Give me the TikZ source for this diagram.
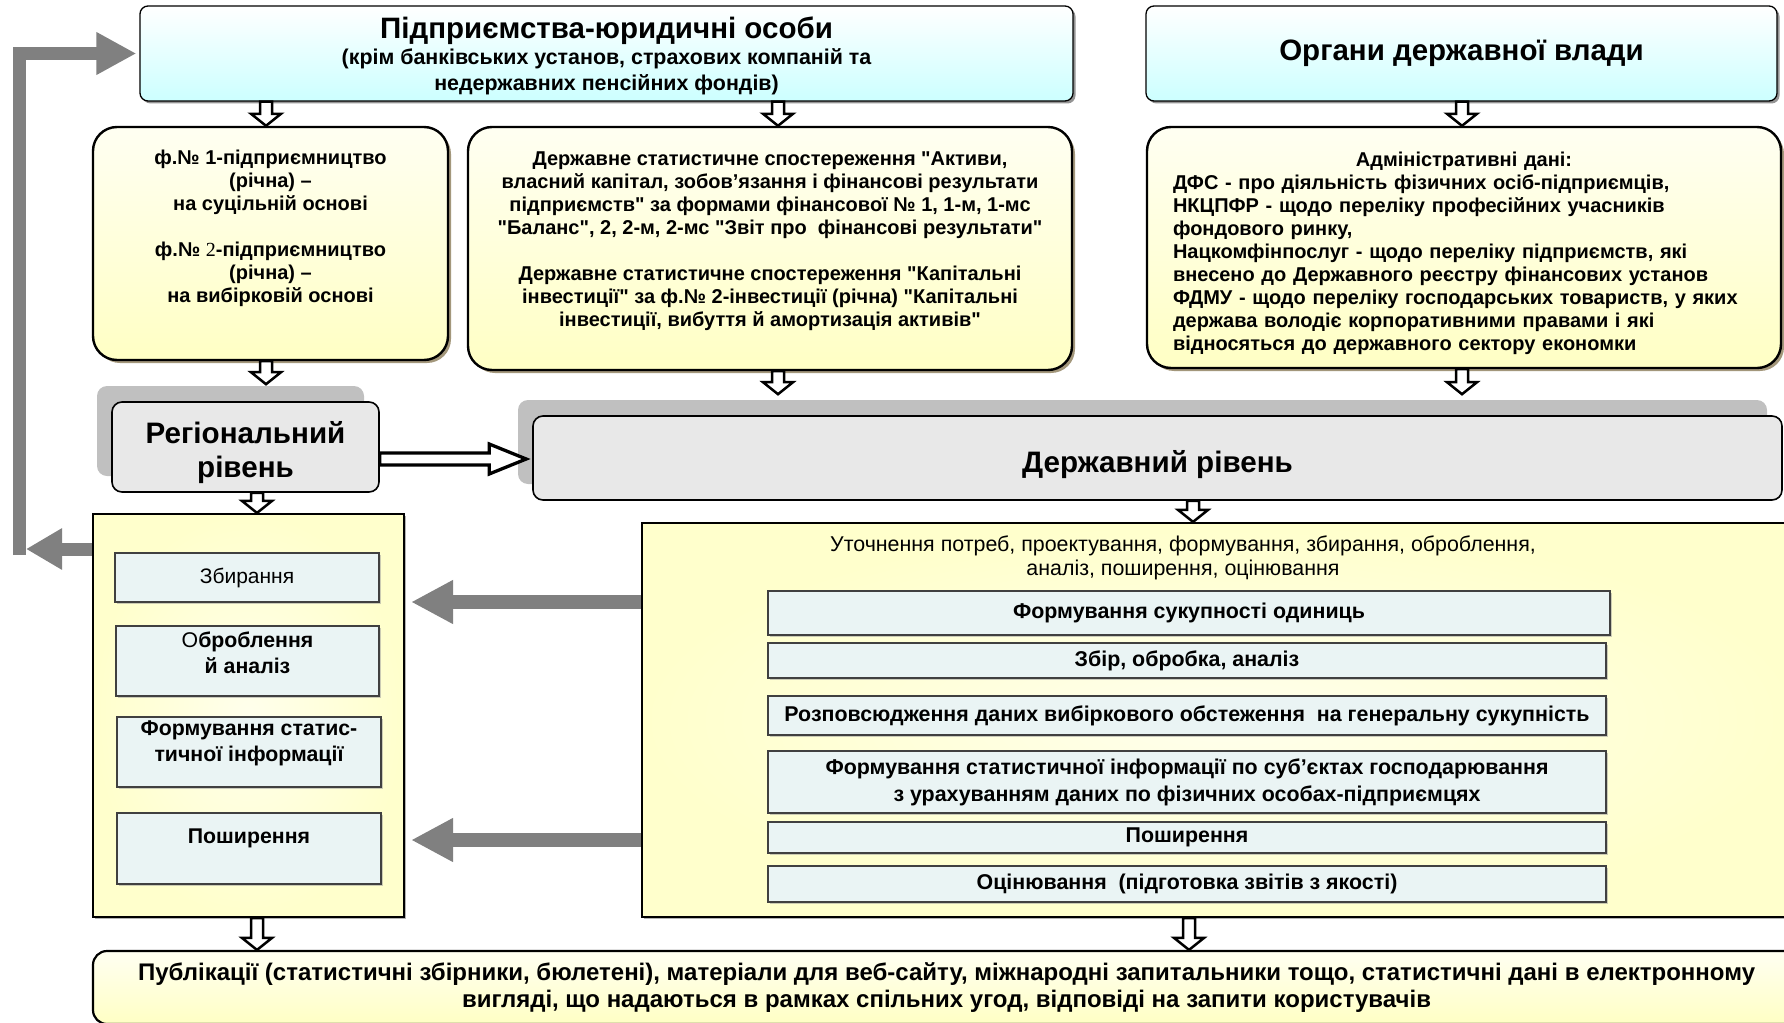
\documentclass[tikz,border=0pt]{standalone}
\usepackage{fontspec}
\setmainfont{Liberation Sans}
\newfontfamily\timesfont{Liberation Serif}
\usetikzlibrary{calc,shadows,arrows.meta}

\definecolor{cyanbot}{HTML}{CCFFFF}
\definecolor{yelltop}{HTML}{FFFFF2}
\definecolor{yellbot}{HTML}{FFFFC4}
\definecolor{procyell}{HTML}{FFFFCC}
\definecolor{proclight}{HTML}{FFFFEC}
\definecolor{cellblue}{HTML}{EAF4F4}
\definecolor{lvlfill}{HTML}{E8E8E8}
\definecolor{lvlback}{HTML}{C0C0C0}
\definecolor{arrgray}{HTML}{808080}
\definecolor{tanshadow}{HTML}{8C7D5A}

\newcommand{\qd}{\textquotedbl}
% hollow arrow down: from #1 to the level of #2
\newcommand{\hollowdown}[2]{%
  \path[hollow] let \p1=#1, \p2=#2 in
    (\x1-6pt,\y1) -- (\x1+6pt,\y1) -- (\x1+6pt,\y2+12pt) -- (\x1+15pt,\y2+12pt)
    -- (\x1,\y2) -- (\x1-15pt,\y2+12pt) -- (\x1-6pt,\y2+12pt) -- cycle;}
% hollow arrow right
\newcommand{\hollowright}[2]{%
  \path[hollow, line width=3.3pt] let \p1=#1, \p2=#2 in
    (\x1,\y1+6pt) -- (\x2-37pt,\y1+6pt) -- (\x2-37pt,\y1+15pt) -- (\x2,\y1)
    -- (\x2-37pt,\y1-15pt) -- (\x2-37pt,\y1-6pt) -- (\x1,\y1-6pt) -- cycle;}

\begin{document}
\begin{tikzpicture}[x=1pt, y=-1pt]
    % styles
    \tikzstyle{entbox}=[draw, line width=1.3pt, rounded corners=8pt, top color=white, bottom color=cyanbot,
        drop shadow={shadow xshift=2.5pt, shadow yshift=-2.5pt, fill=black!60, opacity=0.7}, align=center]
    \tikzstyle{srcbox}=[draw, line width=2.4pt, rounded corners=24pt, top color=yelltop, bottom color=yellbot,
        drop shadow={shadow xshift=3pt, shadow yshift=-3pt, fill=tanshadow, opacity=0.8},
        font=\bfseries\fontsize{20}{23}\selectfont, align=center]
    \tikzstyle{lvlbox}=[draw, line width=1.6pt, rounded corners=10pt, fill=lvlfill,
        drop shadow={shadow xshift=-15pt, shadow yshift=16pt, fill=lvlback, opacity=1},
        font=\bfseries\fontsize{29.6}{34}\selectfont, align=center]
    \tikzstyle{procbox}=[draw, line width=2.2pt, inner color=proclight, outer color=procyell,
        drop shadow={shadow xshift=2pt, shadow yshift=-2pt, fill=black!50, opacity=0.6}]
    \tikzstyle{cell}=[draw=black!75, line width=1.1pt, fill=cellblue, align=center, inner sep=0pt,
        drop shadow={shadow xshift=1.5pt, shadow yshift=-1.5pt, fill=black!40, opacity=0.5},
        font=\bfseries\fontsize{21.3}{26}\selectfont]
    \tikzstyle{rcell}=[cell, minimum width=838pt, font=\bfseries\fontsize{21.4}{27}\selectfont]
    \tikzstyle{hollow}=[draw=black, fill=white, line width=2.5pt, line join=miter]
    \tikzstyle{grayarr}=[draw=arrgray, line width=14pt, shorten >=6pt, -{Triangle[length=42pt, width=41pt]}]
    \tikzstyle{fbarr}=[draw=arrgray, line width=13pt, line join=miter]

    \useasboundingbox (0,0) rectangle (1784,1022);

    % sources
    \node[entbox, minimum width=933pt, minimum height=95pt, font=\bfseries\fontsize{21.4}{26}\selectfont] (ent) at (606.5,53.5)
        {\rule{0pt}{27pt}{\fontsize{29.5}{29.5}\selectfont Підприємства-юридичні особи}\\(крім банківських установ, страхових компаній та\\недержавних пенсійних фондів)};
    \node[entbox, minimum width=631pt, minimum height=95pt, font=\bfseries\fontsize{29.5}{30}\selectfont] (gov) at (1461.5,53.5)
        {Органи державної влади};

    \node[srcbox, minimum width=355pt, minimum height=233pt, text depth=34pt] (form1) at (270.5,243.5)
        {ф.№ 1-підприємництво\\(річна) –\\на суцільній основі\\[23pt]ф.№ {\timesfont\mdseries 2}-підприємництво\\(річна) –\\на вибірковій основі};
    \node[srcbox, minimum width=604pt, minimum height=243pt, text depth=18pt] (survey) at (770,248.5)
        {Державне статистичне спостереження \qd Активи,\\власний капітал, зобов’язання і фінансові результати\\підприємств\qd{} за формами фінансової № 1, 1-м, 1-мс\\\qd Баланс\qd, 2, 2-м, 2-мс \qd Звіт про\ \ фінансові результати\qd\\[23pt]Державне статистичне спостереження \qd Капітальні\\інвестиції\qd{} за ф.№ 2-інвестиції (річна) \qd Капітальні\\інвестиції, вибуття й амортизація активів\qd};
    \node[srcbox, minimum width=634pt, minimum height=241pt, text width=582pt, inner xsep=26pt, align=left] (admin) at (1464,247.5)
        {\rule{0pt}{27pt}\makebox[\linewidth]{Адміністративні дані:}\\ДФС - про діяльність фізичних осіб-підприємців,\\НКЦПФР - щодо переліку професійних учасників\\фондового ринку,\\Нацкомфінпослуг - щодо переліку підприємств, які\\внесено до Державного реєстру фінансових установ\\ФДМУ - щодо переліку господарських товариств, у яких\\держава володіє корпоративними правами і які\\відносяться до державного сектору економки};

    % levels
    \node[lvlbox, minimum width=267pt, minimum height=90pt] (reg) at (245.5,447) {\rule{0pt}{34pt}Регіональний\\рівень};
    \node[lvlbox, minimum width=1249pt, minimum height=84pt] (state) at (1157.5,458) {\rule{0pt}{36pt}Державний рівень};

    % regional process
    \node[procbox, minimum width=311pt, minimum height=403pt] (lbox) at (248.5,715.5) {};
    \node[cell, minimum width=264pt, minimum height=49pt, font=\fontsize{21}{26}\selectfont] (collect) at (247,577.5) {Збирання};
    \node[cell, minimum width=263pt, minimum height=70pt, text depth=16pt] (process) at (247.5,661) {{\mdseries О}броблення\\й аналіз};
    \node[cell, minimum width=264pt, minimum height=70pt, text depth=21pt] (forming) at (249,752) {Формування статис-\\тичної інформації};
    \node[cell, minimum width=264pt, minimum height=71pt, text depth=24pt] (spread) at (249,848.5) {Поширення};

    % state process
    \node[procbox, minimum width=1158pt, minimum height=394pt] (rbox) at (1221,720) {};
    \node[font=\fontsize{21.4}{23.5}\selectfont, align=center] (rhead) at (1183,558)
        {Уточнення потреб, проектування, формування, збирання, оброблення,\\аналіз, поширення, оцінювання};
    \node[rcell, minimum width=842pt, minimum height=44pt] (units) at (1189,613) {Формування сукупності одиниць};
    \node[rcell, minimum height=35pt] (gather) at (1187,660.5) {Збір, обробка, аналіз};
    \node[rcell, minimum height=39pt] (extend) at (1187,715.5) {Розповсюдження даних вибіркового обстеження\ \ на генеральну сукупність};
    \node[rcell, minimum height=62pt] (stats) at (1187,782) {Формування статистичної інформації по суб’єктах господарювання\\з урахуванням даних по фізичних особах-підприємцях};
    \node[rcell, minimum height=31pt] (spread2) at (1187,837.5) {Поширення};
    \node[rcell, minimum height=36pt] (quality) at (1187,884) {Оцінювання\ \ (підготовка звітів з якості)};

    % output
    \node[draw, line width=2.2pt, rounded corners=14pt, top color=yelltop, bottom color=yellbot, align=center,
        font=\bfseries\fontsize{24}{27}\selectfont, minimum width=1707pt, minimum height=73pt] (pub) at (946.5,987.5)
        {Публікації (статистичні збірники, бюлетені), матеріали для веб-сайту, міжнародні запитальники тощо, статистичні дані в електронному\\вигляді, що надаються в рамках спільних угод, відповіді на запити користувачів};

    % arrows
    \hollowdown{(ent.south -| 266,0)}{(form1.north)}                   % ent -> form1
    \hollowdown{(ent.south -| 778,0)}{(survey.north)}                  % ent -> survey
    \hollowdown{(gov.south -| 1462,0)}{(admin.north)}                  % gov -> admin
    \hollowdown{(form1.south -| 266,0)}{($(reg.north)+(0,-17)$)}       % form1 -> reg
    \hollowdown{(survey.south -| 778,0)}{($(state.north)+(0,-21)$)}    % survey -> state
    \hollowdown{(admin.south -| 1462,0)}{($(state.north)+(0,-21)$)}    % admin -> state
    \hollowdown{(reg.south -| 257,0)}{(lbox.north)}                    % reg -> lbox
    \hollowdown{(state.south -| 1193,0)}{(rbox.north)}                 % state -> rbox
    \hollowdown{(lbox.south -| 257,0)}{(pub.north)}                    % lbox -> pub
    \hollowdown{(rbox.south -| 1189,0)}{(pub.north)}                   % rbox -> pub
    \hollowright{(reg.east |- 0,459)}{($(state.west)+(-6,0)$)}         % reg -> state

    \draw[grayarr] (rbox.west |- 0,602) -- (lbox.east |- 0,602);        % rbox -> lbox
    \draw[grayarr] (rbox.west |- 0,840) -- (lbox.east |- 0,840);        % rbox -> lbox

    % feedback
    \coordinate (fbfoot) at (19.5,555);
    \coordinate (fbtip) at (26,549);
    \draw[fbarr, -{Triangle[length=36pt, width=39pt]}] (lbox.west |- fbtip) -- (fbtip);
    \draw[fbarr, shorten >=3pt, -{Triangle[length=40pt, width=40pt]}] (fbfoot) |- (ent.west);   % back to ent
\end{tikzpicture}
\end{document}
